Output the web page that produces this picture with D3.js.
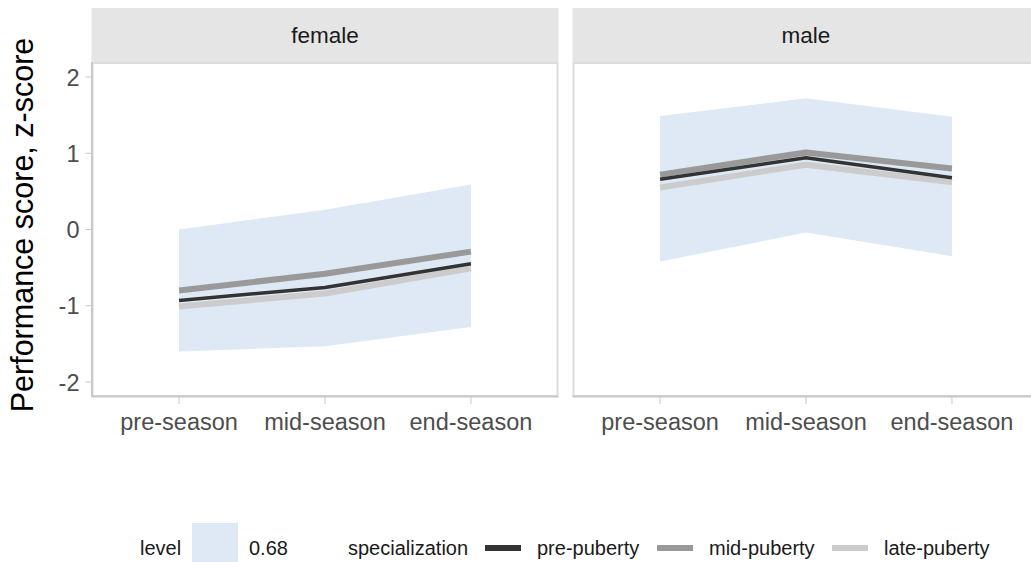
<!DOCTYPE html>
<meta charset="utf-8">
<style>
body { margin: 0; background: #fff; }
text { font-family: "Liberation Sans", Arial, sans-serif; }
</style>
<svg width="1031" height="562"></svg>
<script src="https://d3js.org/d3.v7.min.js"></script>
<script>

// data
var panels = ["female", "male"];
var seasons = ["pre-season", "mid-season", "end-season"];
var groups = ["pre-puberty", "mid-puberty", "late-puberty"];
var groupColors = ["#333333", "#999999", "#cccccc"];
var groupWidths = [3.5, 6, 6];

var ribbonLow = {
  female: [-1.60, -1.53, -1.28],
  male:   [-0.42, -0.04, -0.35]
};
var ribbonHigh = {
  female: [0.00, 0.26, 0.59],
  male:   [1.49, 1.72, 1.48]
};
var lineValues = {
  female: {
    "pre-puberty":  [-0.93, -0.76, -0.45],
    "mid-puberty":  [-0.80, -0.58, -0.29],
    "late-puberty": [-1.01, -0.84, -0.51]
  },
  male: {
    "pre-puberty":  [0.66, 0.94, 0.68],
    "mid-puberty":  [0.72, 1.01, 0.80],
    "late-puberty": [0.55, 0.85, 0.62]
  }
};
var yTicks = [-2, -1, 0, 1, 2];

var svg = d3.select("svg");

var panelLeft = [91.5, 572.5],
    panelWidth = 467,
    panelTop = 62,
    panelBottom = 397,
    stripTop = 8;

var y = d3.scaleLinear().domain([-2, 2]).range([382, 77]);

panels.forEach(function(p, i) {
  var x0 = panelLeft[i];
  var x = d3.scalePoint().domain(seasons).range([x0, x0 + panelWidth]).padding(0.6);

  var g = svg.append("g");

  // strip
  g.append("rect")
    .attr("x", x0).attr("y", stripTop)
    .attr("width", panelWidth).attr("height", panelTop - stripTop)
    .attr("fill", "#e5e5e5");
  g.append("text")
    .attr("x", x0 + panelWidth / 2).attr("y", (stripTop + panelTop) / 2 + 8)
    .attr("text-anchor", "middle")
    .attr("font-size", "22.5px")
    .attr("fill", "#1a1a1a")
    .text(p);

  // panel border
  g.append("rect")
    .attr("x", x0 + 1).attr("y", panelTop + 1)
    .attr("width", panelWidth - 2).attr("height", panelBottom - panelTop - 2)
    .attr("fill", "#fff")
    .attr("stroke", "#dcdcdc").attr("stroke-width", 2);

  // ribbon
  var area = d3.area()
    .x(function(d, j) { return x(seasons[j]); })
    .y0(function(d, j) { return y(ribbonLow[p][j]); })
    .y1(function(d, j) { return y(ribbonHigh[p][j]); });
  g.append("path")
    .datum(seasons)
    .attr("d", area)
    .attr("fill", "#dee9f5");

  // lines (late drawn first so darker sits on top)
  var line = d3.line()
    .x(function(d, j) { return x(seasons[j]); })
    .y(function(d) { return y(d); });
  [2, 1, 0].forEach(function(k) {
    g.append("path")
      .datum(lineValues[p][groups[k]])
      .attr("d", line)
      .attr("fill", "none")
      .attr("stroke", groupColors[k])
      .attr("stroke-width", groupWidths[k])
      .attr("stroke-linejoin", "round");
  });

  // x axis
  g.append("line")
    .attr("x1", x0).attr("x2", x0 + panelWidth)
    .attr("y1", panelBottom - 0.5).attr("y2", panelBottom - 0.5)
    .attr("stroke", "#c8c8c8").attr("stroke-width", 2);
  seasons.forEach(function(s) {
    g.append("line")
      .attr("x1", x(s)).attr("x2", x(s))
      .attr("y1", panelBottom).attr("y2", panelBottom + 7)
      .attr("stroke", "#c8c8c8").attr("stroke-width", 1);
    g.append("text")
      .attr("x", x(s)).attr("y", 430)
      .attr("text-anchor", "middle")
      .attr("font-size", "23.5px")
      .attr("fill", "#4d4d4d")
      .text(s);
  });

  // y axis only on first panel
  if (i === 0) {
    g.append("line")
      .attr("x1", x0 + 0.5).attr("x2", x0 + 0.5)
      .attr("y1", panelTop).attr("y2", panelBottom)
      .attr("stroke", "#c8c8c8").attr("stroke-width", 2);
    yTicks.forEach(function(t) {
      g.append("line")
        .attr("x1", x0 - 6).attr("x2", x0)
        .attr("y1", y(t)).attr("y2", y(t))
        .attr("stroke", "#c8c8c8").attr("stroke-width", 1);
      g.append("text")
        .attr("x", x0 - 12).attr("y", y(t) + 8.5)
        .attr("text-anchor", "end")
        .attr("font-size", "23.5px")
        .attr("fill", "#4d4d4d")
        .text(t);
    });
  }
});

// y title
svg.append("text")
  .attr("transform", "translate(33," + 225 + ") rotate(-90)")
  .attr("text-anchor", "middle")
  .attr("font-size", "30.5px")
  .attr("fill", "#000")
  .text("Performance score, z-score");

// legend
var ly = 555;
var legend = svg.append("g").attr("font-size", "20px").attr("fill", "#1a1a1a");
legend.append("text").attr("x", 140).attr("y", ly).text("level");
legend.append("rect").attr("x", 192).attr("y", 523).attr("width", 46).attr("height", 39).attr("fill", "#dee9f5");
legend.append("text").attr("x", 249).attr("y", ly).text("0.68");
legend.append("text").attr("x", 348).attr("y", ly).text("specialization");

var keyX = [485, 657, 832];
var labX = [537, 709, 884];
groups.forEach(function(gname, k) {
  legend.append("line")
    .attr("x1", keyX[k]).attr("x2", keyX[k] + 36)
    .attr("y1", 548).attr("y2", 548)
    .attr("stroke", groupColors[k]).attr("stroke-width", 6);
  legend.append("text").attr("x", labX[k]).attr("y", ly).text(gname);
});

</script>
